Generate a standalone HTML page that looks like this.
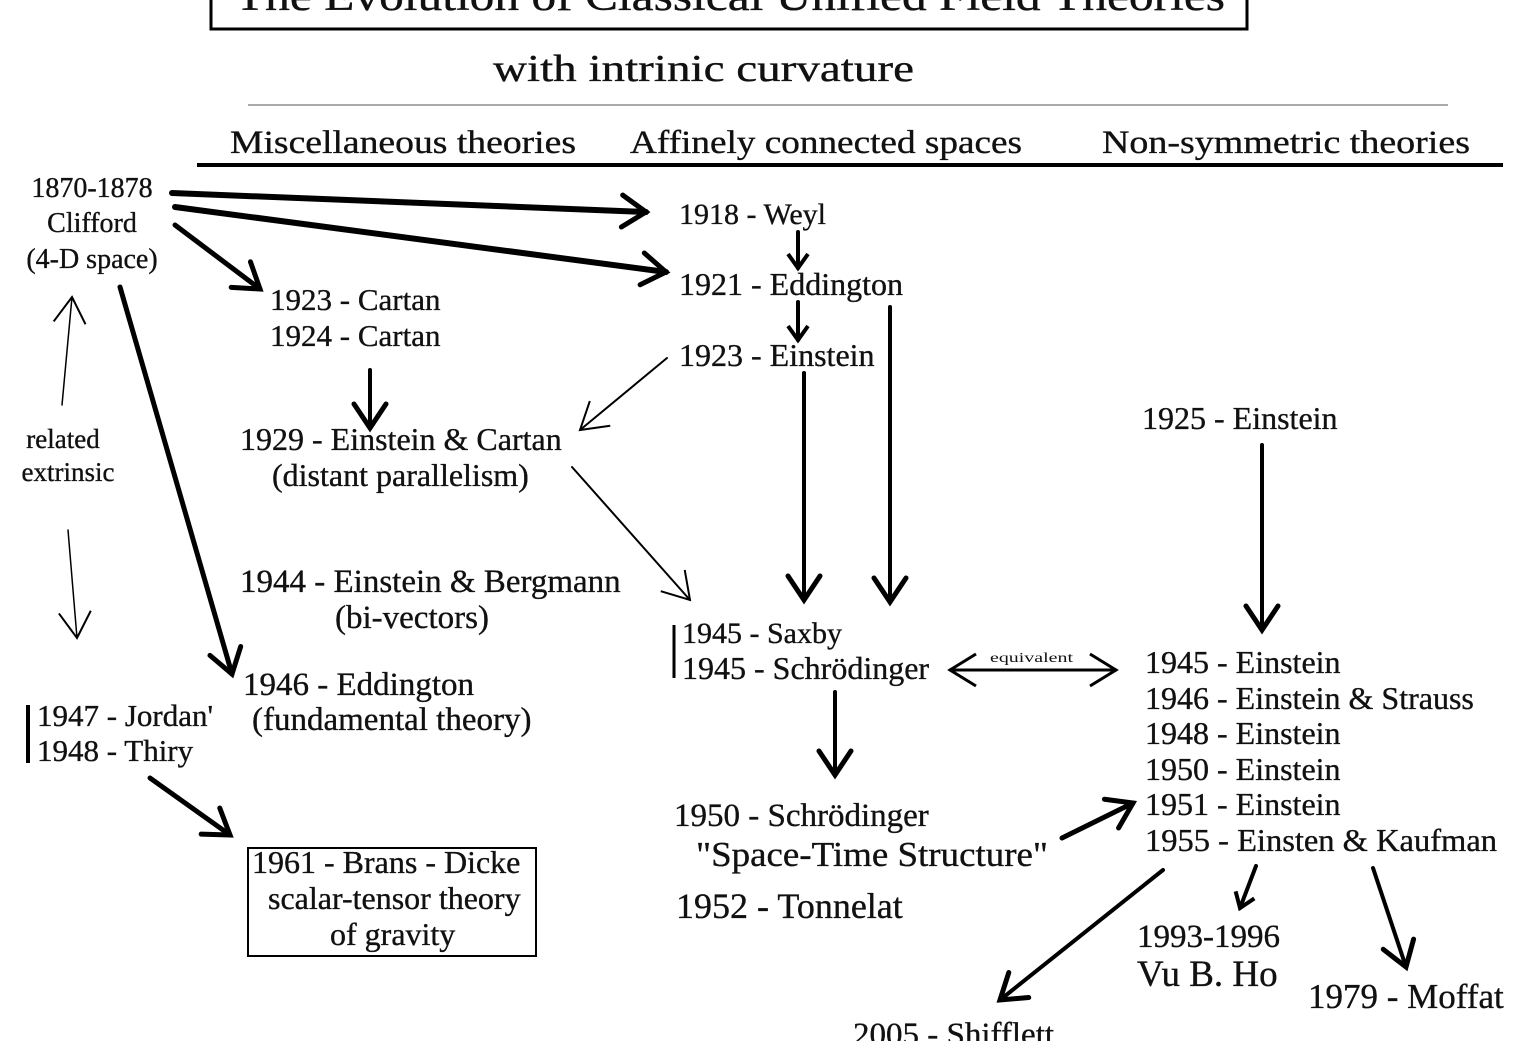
<!DOCTYPE html>
<html><head><style>
html,body{margin:0;padding:0;background:#fff;}
svg{display:block;}
text{font-family:"Liberation Serif",serif;fill:#111;stroke:#111;stroke-width:0.35;}
</style></head><body>
<svg width="1529" height="1041" viewBox="0 0 1529 1041" xmlns="http://www.w3.org/2000/svg" font-size="32">
<defs>
<marker id="big" markerUnits="userSpaceOnUse" markerWidth="60" markerHeight="60" refX="30" refY="30" orient="auto">
<path d="M6,14 L30,30 L6,46" fill="none" stroke="#000" stroke-width="5" stroke-linecap="round"/>
</marker>
<marker id="thin" markerUnits="userSpaceOnUse" markerWidth="60" markerHeight="60" refX="30" refY="30" orient="auto">
<path d="M4,14 L30,30 L4,46" fill="none" stroke="#000" stroke-width="2"/>
</marker>
<marker id="thinR" markerUnits="userSpaceOnUse" markerWidth="60" markerHeight="60" refX="30" refY="30" orient="auto-start-reverse">
<path d="M4,14 L30,30 L4,46" fill="none" stroke="#000" stroke-width="3"/>
</marker>
<marker id="small" markerUnits="userSpaceOnUse" markerWidth="40" markerHeight="40" refX="20" refY="20" orient="auto">
<path d="M6,10 L20,20 L6,30" fill="none" stroke="#000" stroke-width="4"/>
</marker>
</defs>
<!-- title -->
<rect x="211" y="-20" width="1036" height="49" fill="none" stroke="#000" stroke-width="3"/>
<text x="235" y="10" font-size="42" textLength="990" lengthAdjust="spacingAndGlyphs">The Evolution of Classical Unified Field Theories</text>
<text x="493" y="81" font-size="38" textLength="421" lengthAdjust="spacingAndGlyphs">with intrinic curvature</text>
<line x1="248" y1="105" x2="1448" y2="105" stroke="#aaa" stroke-width="2"/>
<text x="230" y="153" font-size="33" textLength="346" lengthAdjust="spacingAndGlyphs">Miscellaneous theories</text>
<text x="630" y="153" font-size="33" textLength="392" lengthAdjust="spacingAndGlyphs">Affinely connected spaces</text>
<text x="1102" y="153" font-size="33" textLength="368" lengthAdjust="spacingAndGlyphs">Non-symmetric theories</text>
<line x1="197" y1="165" x2="1503" y2="165" stroke="#000" stroke-width="4"/>

<!-- left -->
<text x="92" y="197" text-anchor="middle" font-size="28">1870-1878</text>
<text x="92" y="232" text-anchor="middle" font-size="28">Clifford</text>
<text x="92" y="268" text-anchor="middle" font-size="28">(4-D space)</text>
<text x="63" y="448" text-anchor="middle" font-size="27">related</text>
<text x="68" y="481" text-anchor="middle" font-size="27">extrinsic</text>
<line x1="28" y1="705" x2="28" y2="763" stroke="#000" stroke-width="4"/>
<text x="37" y="726" font-size="31">1947 - Jordan'</text>
<text x="37" y="761" font-size="31">1948 - Thiry</text>

<text x="270" y="310" font-size="31">1923 - Cartan</text>
<text x="270" y="346" font-size="31">1924 - Cartan</text>
<text x="240" y="450">1929 - Einstein &amp; Cartan</text>
<text x="272" y="486">(distant parallelism)</text>
<text x="240" y="592" font-size="33">1944 - Einstein &amp; Bergmann</text>
<text x="335" y="628" font-size="33">(bi-vectors)</text>
<text x="243" y="695" font-size="33">1946 - Eddington</text>
<text x="252" y="730" font-size="33">(fundamental theory)</text>
<rect x="248" y="848" width="288" height="108" fill="none" stroke="#000" stroke-width="2"/>
<text x="252" y="873">1961 - Brans - Dicke</text>
<text x="268" y="909">scalar-tensor theory</text>
<text x="330" y="945">of gravity</text>

<!-- middle -->
<text x="679" y="224" font-size="30">1918 - Weyl</text>
<text x="679" y="295">1921 - Eddington</text>
<text x="679" y="366">1923 - Einstein</text>
<line x1="674" y1="625" x2="674" y2="678" stroke="#000" stroke-width="3"/>
<text x="682" y="643" font-size="30">1945 - Saxby</text>
<text x="682" y="679">1945 - Schrödinger</text>
<text x="674" y="826" font-size="33">1950 - Schrödinger</text>
<text x="696" y="866" font-size="35" textLength="352" lengthAdjust="spacingAndGlyphs">"Space-Time Structure"</text>
<text x="676" y="918" font-size="36">1952 - Tonnelat</text>
<text x="853" y="1045" font-size="33">2005 - Shifflett</text>

<!-- right -->
<text x="1142" y="429">1925 - Einstein</text>
<text x="1145" y="673">1945 - Einstein</text>
<text x="1145" y="709">1946 - Einstein &amp; Strauss</text>
<text x="1145" y="744">1948 - Einstein</text>
<text x="1145" y="780">1950 - Einstein</text>
<text x="1145" y="815">1951 - Einstein</text>
<text x="1145" y="851" textLength="352" lengthAdjust="spacingAndGlyphs">1955 - Einsten &amp; Kaufman</text>
<text x="1137" y="947" font-size="33">1993-1996</text>
<text x="1137" y="986" font-size="37">Vu B. Ho</text>
<text x="1308" y="1008" font-size="35">1979 - Moffat</text>
<text x="990" y="662" font-size="14" textLength="83" lengthAdjust="spacingAndGlyphs" style="stroke-width:0">equivalent</text>

<!-- arrows -->
<g stroke="#000" fill="none" stroke-linecap="round">
<line x1="172" y1="193" x2="646" y2="212" stroke-width="6" marker-end="url(#big)"/>
<line x1="175" y1="207" x2="666" y2="272" stroke-width="6" marker-end="url(#big)"/>
<line x1="175" y1="225" x2="260" y2="289" stroke-width="5" marker-end="url(#big)"/>
<line x1="120" y1="287" x2="232" y2="674" stroke-width="5" marker-end="url(#big)"/>
<line x1="798" y1="232" x2="798" y2="268" stroke-width="4" marker-end="url(#small)"/>
<line x1="798" y1="302" x2="798" y2="340" stroke-width="4" marker-end="url(#small)"/>
<line x1="667" y1="358" x2="580" y2="430" stroke-width="2" marker-end="url(#thin)"/>
<line x1="370" y1="370" x2="370" y2="428" stroke-width="4" marker-end="url(#big)"/>
<line x1="572" y1="467" x2="690" y2="600" stroke-width="2" marker-end="url(#thin)"/>
<line x1="804" y1="373" x2="804" y2="600" stroke-width="4" marker-end="url(#big)"/>
<line x1="890" y1="307" x2="890" y2="602" stroke-width="4" marker-end="url(#big)"/>
<line x1="1262" y1="445" x2="1262" y2="630" stroke-width="4" marker-end="url(#big)"/>
<line x1="62" y1="405" x2="72" y2="297" stroke-width="1.5" marker-end="url(#thin)"/>
<line x1="68" y1="530" x2="77" y2="638" stroke-width="1.5" marker-end="url(#thin)"/>
<line x1="835" y1="692" x2="835" y2="775" stroke-width="4" marker-end="url(#big)"/>
<line x1="950" y1="670" x2="1116" y2="670" stroke-width="3" marker-start="url(#thinR)" marker-end="url(#thinR)"/>
<line x1="1062" y1="838" x2="1133" y2="803" stroke-width="5" marker-end="url(#big)"/>
<line x1="150" y1="778" x2="230" y2="835" stroke-width="5" marker-end="url(#big)"/>
<line x1="1163" y1="870" x2="1000" y2="1000" stroke-width="4" marker-end="url(#big)"/>
<line x1="1256" y1="866" x2="1240" y2="908" stroke-width="4" marker-end="url(#small)"/>
<line x1="1373" y1="868" x2="1406" y2="967" stroke-width="4" marker-end="url(#big)"/>
</g>
</svg>
</body></html>
